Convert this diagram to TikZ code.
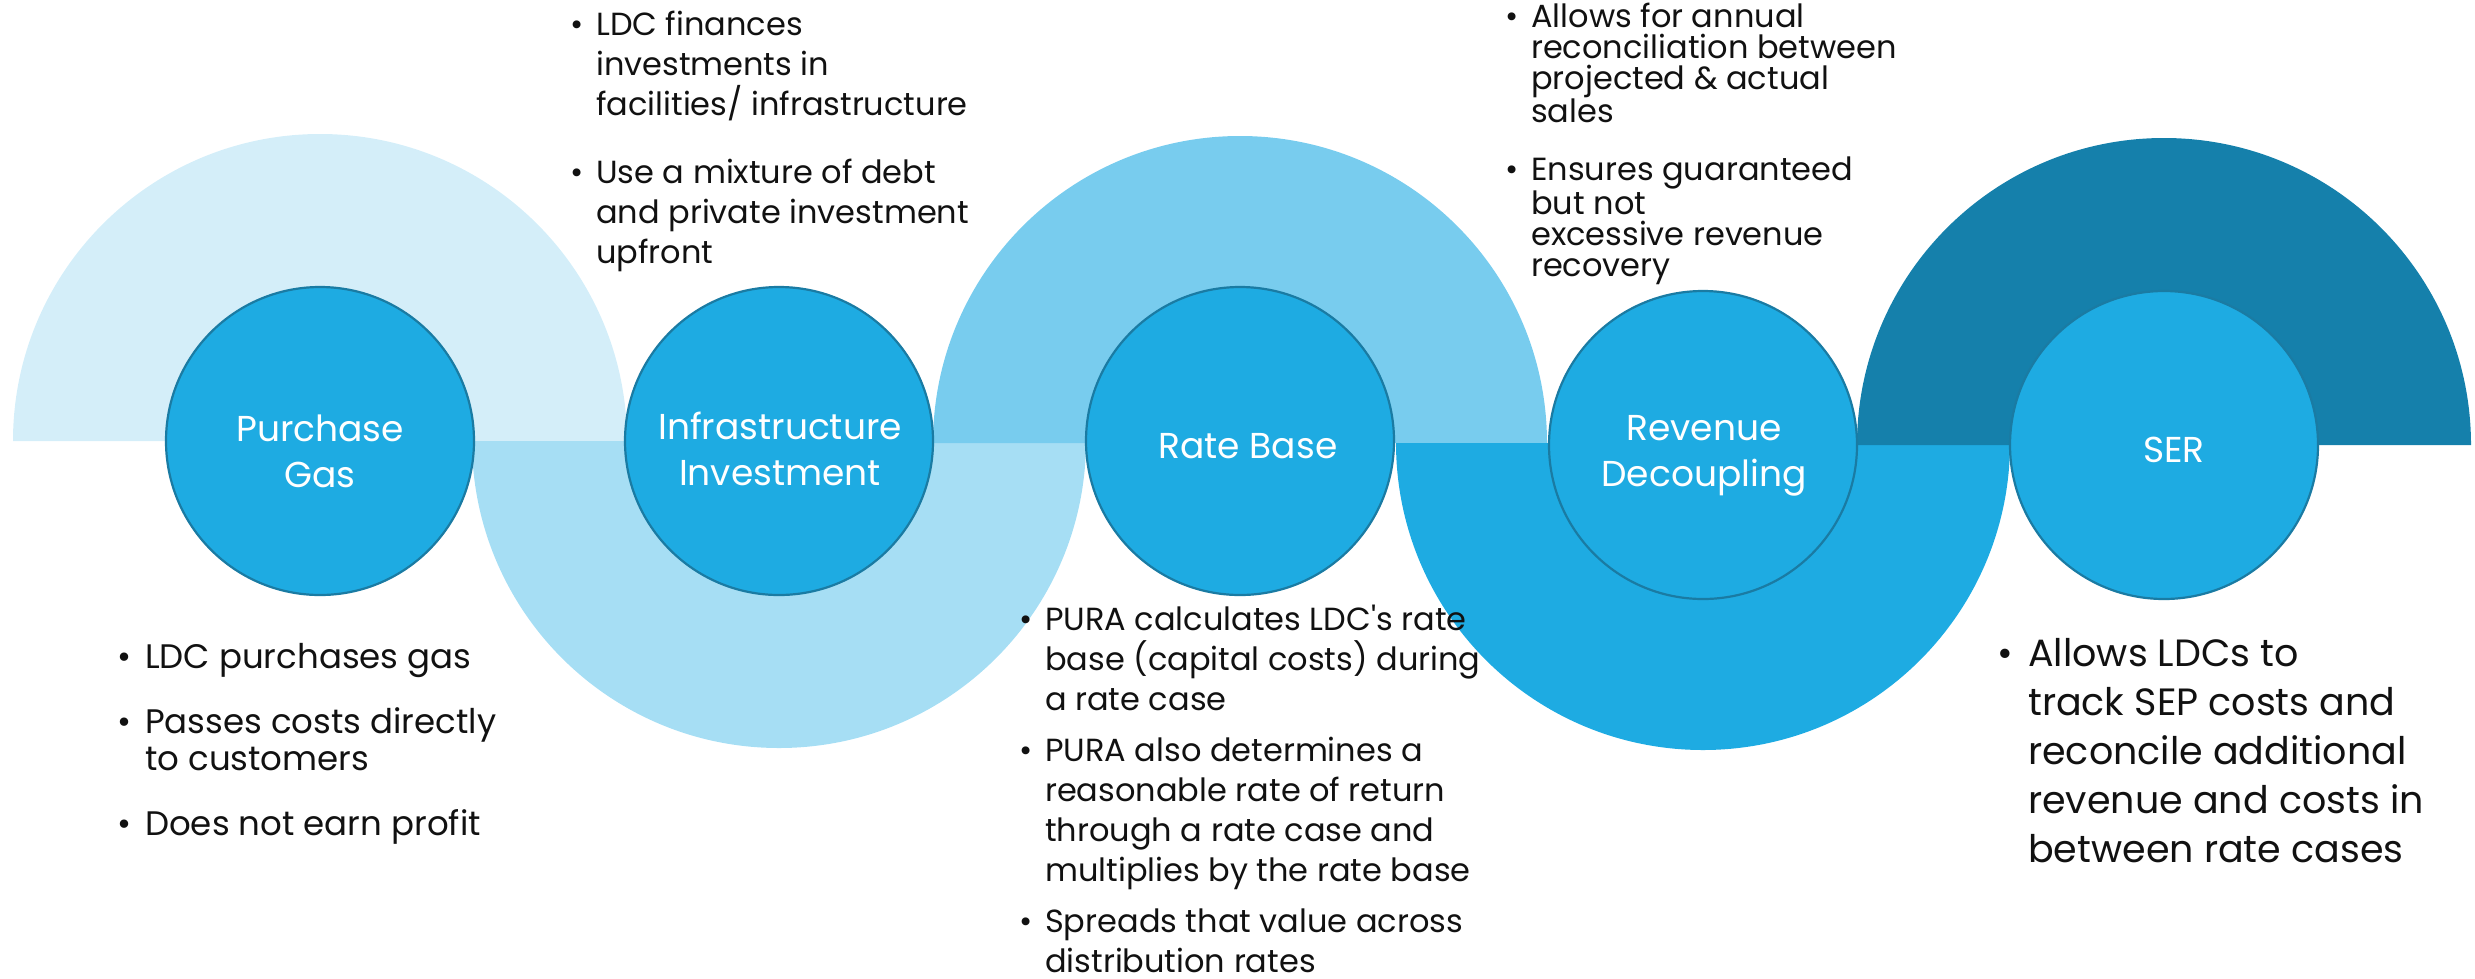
\documentclass[tikz,border=0pt]{standalone}
\usepackage{fontspec}
\setmainfont{Poppins}
\definecolor{arcA}{HTML}{D4EEF9}
\definecolor{arcB}{HTML}{A6DEF4}
\definecolor{arcC}{HTML}{78CCEE}
\definecolor{arcD}{HTML}{1EABE2}
\definecolor{arcE}{HTML}{1580AB}
\definecolor{stagefill}{HTML}{1EABE2}
\definecolor{stageedge}{HTML}{1A7BA3}
\definecolor{ink}{HTML}{111111}
% hanging bullet placed left of the line start
\newcommand\bul{\llap{\textbullet\hspace{0.4em}}}
\begin{document}
\begin{tikzpicture}[x=1pt,y=-1pt,
  stage/.style={circle, minimum size=308pt, inner sep=0pt, fill=stagefill,
    draw=stageedge, line width=2.2pt},
  stagelabel/.style={anchor=base, align=center, inner sep=0pt, text=white,
    font=\fontsize{36}{46}\selectfont},
  notes/.style={anchor=base west, align=left, inner sep=0pt, text=ink}
]
\useasboundingbox (0,0) rectangle (2475,978);

% alternating half-discs forming the wave
\fill[arcA] (13,441) arc[start angle=180,end angle=360,radius=307] -- cycle;
\fill[arcB] (472,441) arc[start angle=180,end angle=0,radius=307] -- cycle;
\fill[arcC] (933,443) arc[start angle=180,end angle=360,radius=307] -- cycle;
\fill[arcD] (1396,443) arc[start angle=180,end angle=0,radius=307] -- cycle;
\fill[arcE] (1857,445) arc[start angle=180,end angle=360,radius=307] -- cycle;

% stage circles
\node[stage] (gas)   at (320,441)  {};
\node[stage] (infra) at (779,441)  {};
\node[stage] (rate)  at (1240,441) {};
\node[stage] (dec)   at (1703,445) {};
\node[stage] (ser)   at (2164,445) {};

% stage titles (anchored on the baseline of their last line)
\node[stagelabel] (gaslbl)   at (320,487)  {Purchase\\Gas};
\node[stagelabel] (infralbl) at (780,485)  {Infrastructure\\Investment};
\node[stagelabel] (ratelbl)  at (1248,458) {Rate Base};
\node[stagelabel] (declbl)   at (1704,486) {Revenue\\Decoupling};
\node[stagelabel] (serlbl)   at (2174,462) {SER};

% notes for each stage (anchored on the baseline of their last line)
\node[notes, font=\fontsize{34}{37}\selectfont] (gasnotes) at (145,835)
  {\bul LDC purchases gas\\[28pt]
   \bul Passes costs directly\\to customers\\[28pt]
   \bul Does not earn profit};

\node[notes, font=\fontsize{32}{40}\selectfont] (infranotes) at (596,263)
  {\bul LDC finances\\investments in\\facilities/ infrastructure\\[28pt]
   \bul Use a mixture of debt\\and private investment\\upfront};

\node[notes, font=\fontsize{32}{40}\selectfont] (ratenotes) at (1045,972)
  {\bul PURA calculates LDC\textquotesingle s rate\\base (capital costs) during\\a rate case\\[11pt]
   \bul PURA also determines a\\reasonable rate of return\\through a rate case and\\multiplies by the rate base\\[11pt]
   \bul Spreads that value across\\distribution rates};

\node[notes, font=\fontsize{32}{31}\selectfont] (decnotes) at (1531,276)
  {\bul Allows for annual\\reconciliation between\\projected \& actual\\sales\\[27pt]
   \bul Ensures guaranteed\\but not\\excessive revenue\\recovery};

\node[notes, font=\fontsize{38}{49}\selectfont] (sernotes) at (2028,862)
  {\bul Allows LDCs to\\track SEP costs and\\reconcile additional\\revenue and costs in\\between rate cases};
\end{tikzpicture}
\end{document}
